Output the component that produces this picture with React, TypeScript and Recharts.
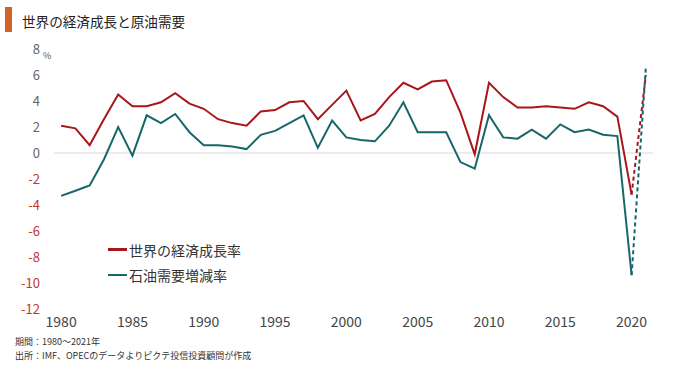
import React from "react";
import {
  LineChart,
  Line,
  XAxis,
  YAxis,
  ReferenceLine,
  Legend,
} from "recharts";

const years = [
  1980, 1981, 1982, 1983, 1984, 1985, 1986, 1987, 1988, 1989,
  1990, 1991, 1992, 1993, 1994, 1995, 1996, 1997, 1998, 1999,
  2000, 2001, 2002, 2003, 2004, 2005, 2006, 2007, 2008, 2009,
  2010, 2011, 2012, 2013, 2014, 2015, 2016, 2017, 2018, 2019,
  2020, 2021,
];

// 世界の経済成長率 (%)
const gdpGrowth = [
  2.1, 1.9, 0.6, 2.6, 4.5, 3.6, 3.6, 3.9, 4.6, 3.8,
  3.4, 2.6, 2.3, 2.1, 3.2, 3.3, 3.9, 4.0, 2.6, 3.7,
  4.8, 2.5, 3.0, 4.3, 5.4, 4.9, 5.5, 5.6, 3.1, -0.1,
  5.4, 4.3, 3.5, 3.5, 3.6, 3.5, 3.4, 3.9, 3.6, 2.8,
  -3.2, 6.0,
];

// 石油需要増減率 (%)
const oilDemand = [
  -3.3, -2.9, -2.5, -0.5, 2.0, -0.2, 2.9, 2.3, 3.0, 1.6,
  0.6, 0.6, 0.5, 0.3, 1.4, 1.7, 2.3, 2.9, 0.4, 2.5,
  1.2, 1.0, 0.9, 2.1, 3.9, 1.6, 1.6, 1.6, -0.7, -1.2,
  2.9, 1.2, 1.1, 1.8, 1.1, 2.2, 1.6, 1.8, 1.4, 1.3,
  -9.4, 6.6,
];

const xTicks = [1980, 1985, 1990, 1995, 2000, 2005, 2010, 2015, 2020];
const yTicks = [8, 6, 4, 2, 0, -2, -4, -6, -8, -10, -12];
const forecastFrom = 2020; // 2020→2021 は点線

const RED = "#a8161c";
const TEAL = "#17676a";
const FONT = "'Noto Sans CJK JP', 'Noto Sans', sans-serif";

const data = years.map((year, i) => ({
  year,
  gdp: year <= forecastFrom ? gdpGrowth[i] : null,
  oil: year <= forecastFrom ? oilDemand[i] : null,
  gdpF: year >= forecastFrom ? gdpGrowth[i] : null,
  oilF: year >= forecastFrom ? oilDemand[i] : null,
}));

const YTick = (props: any) => {
  const { x, y, payload } = props;
  const v = payload.value;
  return (
    <text
      x={x}
      y={y}
      dy="0.35em"
      textAnchor="end"
      fontSize={13}
      fontFamily={FONT}
      fill={v < 0 ? "#c0392f" : "#666"}
    >
      {v}
    </text>
  );
};

const LegendBox = (props: any) => {
  const items = (props.payload || []).filter((p: any) => p.type !== "none");
  return (
    <div style={{ fontFamily: FONT }}>
      {items.map((p: any) => (
        <div
          key={p.value}
          style={{ display: "flex", alignItems: "center", height: 25 }}
        >
          <span
            style={{
              display: "inline-block",
              width: 19,
              height: p.color === RED ? 3 : 2,
              background: p.color,
              marginRight: 2,
            }}
          />
          <span style={{ fontSize: 14, color: "#333" }}>{p.value}</span>
        </div>
      ))}
    </div>
  );
};

export default function App() {
  return (
    <div
      style={{
        position: "absolute",
        left: 0,
        top: 0,
        width: 680,
        height: 366,
        background: "#fff",
        fontFamily: FONT,
      }}
    >
      <div
        style={{
          position: "absolute",
          left: 5,
          top: 7,
          width: 7,
          height: 25,
          background: "#d2642a",
        }}
      />
      <div
        style={{
          position: "absolute",
          left: 22,
          top: 11,
          fontSize: 13.6,
          lineHeight: "20px",
          color: "#222",
        }}
      >
        世界の経済成長と原油需要
      </div>
      <div
        style={{
          position: "absolute",
          left: 43,
          top: 49,
          fontSize: 9,
          color: "#555",
        }}
      >
        %
      </div>

      <LineChart
        width={680}
        height={366}
        data={data}
        margin={{ top: 49, right: 27, bottom: 27, left: 10 }}
      >
        <XAxis
          dataKey="year"
          type="number"
          domain={[1979.5, 2021.5]}
          ticks={xTicks}
          axisLine={false}
          tickLine={false}
          tick={{ fontSize: 14, fill: "#444", fontFamily: FONT }}
        />
        <YAxis
          width={44}
          domain={[-12, 8]}
          ticks={yTicks}
          axisLine={false}
          tickLine={false}
          tickMargin={8}
          tick={<YTick />}
          interval={0}
        />
        <ReferenceLine y={0} stroke="#e6e6e6" strokeWidth={1.5} />
        <Legend
          layout="horizontal"
          verticalAlign="middle"
          align="center"
          wrapperStyle={{ left: 108, top: 237, width: 200 }}
          content={<LegendBox />}
        />
        <Line
          dataKey="gdp"
          name="世界の経済成長率"
          stroke={RED}
          strokeWidth={2}
          dot={false}
          isAnimationActive={false}
        />
        <Line
          dataKey="oil"
          name="石油需要増減率"
          stroke={TEAL}
          strokeWidth={2}
          dot={false}
          isAnimationActive={false}
        />
        <Line
          dataKey="gdpF"
          legendType="none"
          stroke={RED}
          strokeWidth={2}
          strokeDasharray="4 3"
          dot={false}
          isAnimationActive={false}
        />
        <Line
          dataKey="oilF"
          legendType="none"
          stroke={TEAL}
          strokeWidth={2}
          strokeDasharray="4 3"
          dot={false}
          isAnimationActive={false}
        />
      </LineChart>

      <div
        style={{
          position: "absolute",
          left: 15,
          top: 335,
          fontSize: 9,
          lineHeight: "13.5px",
          color: "#333",
        }}
      >
        期間：1980～2021年
      </div>
      <div
        style={{
          position: "absolute",
          left: 15,
          top: 348.5,
          fontSize: 9,
          lineHeight: "13.5px",
          color: "#333",
        }}
      >
        出所：IMF、OPECのデータよりピクテ投信投資顧問が作成
      </div>
    </div>
  );
}
